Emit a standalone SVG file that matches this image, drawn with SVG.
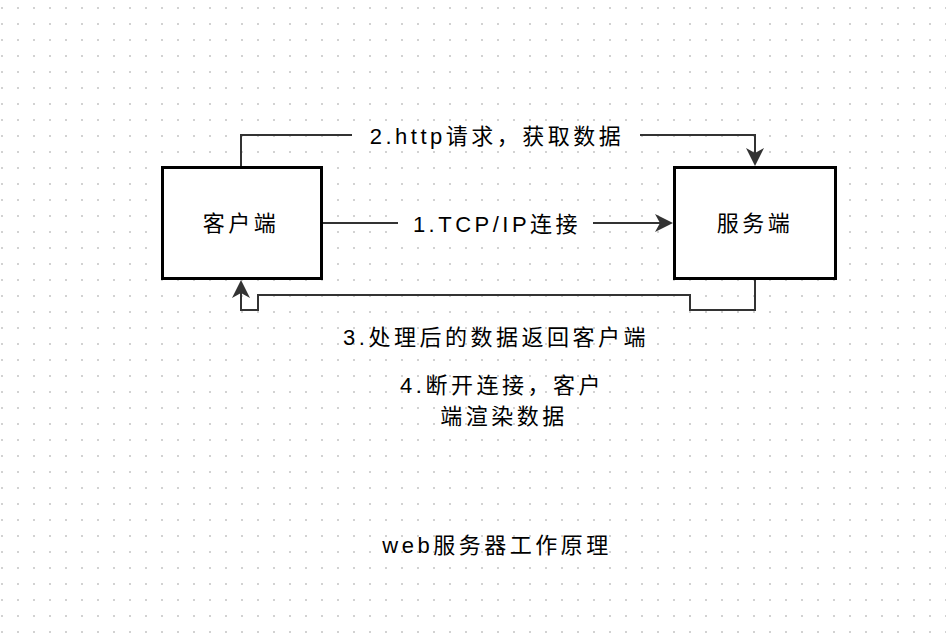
<svg xmlns="http://www.w3.org/2000/svg" width="946" height="642" viewBox="0 0 946 642">
<style>
.t{font-family:"Liberation Sans","Noto Sans CJK SC",sans-serif;font-size:22px;letter-spacing:3.5px;fill:#000;text-anchor:middle}
.box{fill:#fff;stroke:#000;stroke-width:3}
.c{fill:none;stroke:#333;stroke-width:2}
</style>
<defs>
<pattern id="grid" patternUnits="userSpaceOnUse" width="16" height="16">
<rect x="1" y="7" width="2" height="2" fill="#d2d2d2"/>
</pattern>
<marker id="arr" viewBox="0 0 18 18" refX="5" refY="9" markerWidth="18" markerHeight="18" markerUnits="userSpaceOnUse" orient="auto">
<path d="M0,0 L18,9 L0,18 L5,9 Z" fill="#333"/>
</marker>
</defs>
<rect width="946" height="642" fill="#fff"/>
<rect width="946" height="642" fill="url(#grid)"/>
<g id="connectors">
<path class="c" d="M241 167 V135 H755 V153" marker-end="url(#arr)"/>
<path class="c" d="M322 223 H660" marker-end="url(#arr)"/>
<path class="c" d="M755 279 V310 H690 V295 H258 V310 H241 V293" marker-end="url(#arr)"/>
<rect x="352" y="123" width="288" height="25" fill="#fff"/>
<text class="t" x="497" y="144">2.http请求，获取数据</text>
<rect x="398" y="211" width="195" height="25" fill="#fff"/>
<text class="t" x="497" y="232">1.TCP/IP连接</text>
<text class="t" x="496" y="345">3.处理后的数据返回客户端</text>
<text class="t" x="502" y="393">4.断开连接，客户</text>
<text class="t" x="504" y="424">端渲染数据</text>
</g>
<g id="client">
<rect class="box" x="162.5" y="167.5" width="159" height="111"/>
<text class="t" x="241" y="231">客户端</text>
</g>
<g id="server">
<rect class="box" x="674.5" y="167.5" width="161" height="111"/>
<text class="t" x="755" y="231">服务端</text>
</g>
<g id="title">
<text class="t" x="497" y="553">web服务器工作原理</text>
</g>
</svg>
